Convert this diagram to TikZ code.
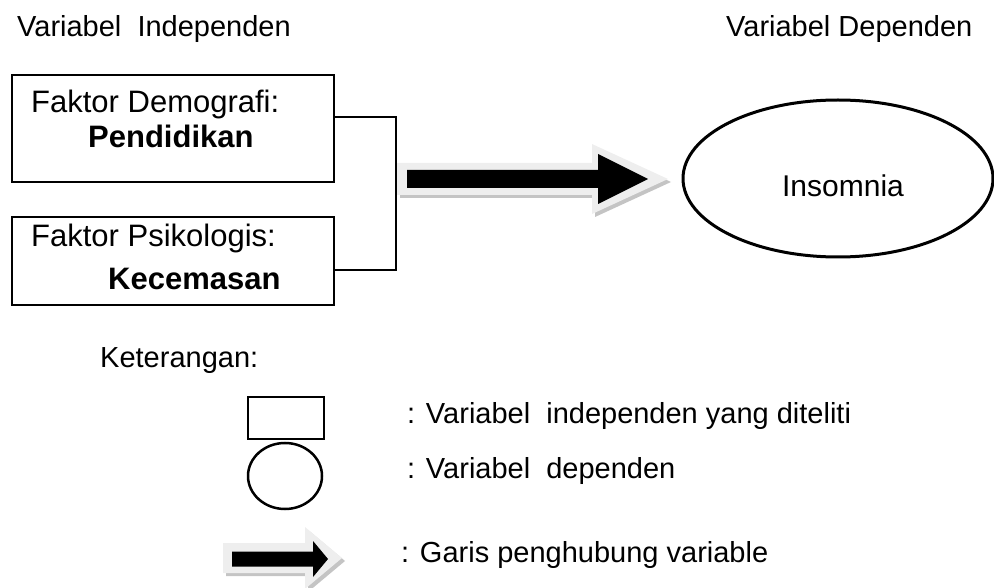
\documentclass[tikz,border=0pt]{standalone}
\usepackage{fontspec}
\setmainfont{Liberation Sans}
\usetikzlibrary{shapes.geometric}
\definecolor{arrowgrey}{HTML}{EEEEEE}
\definecolor{shadegrey}{HTML}{C4C4C4}
\newcommand{\blockarrow}[7][black]{%
    \fill[#1] (#2,{#5-#6}) -- (#3,{#5-#6}) -- (#3,{#5-#7}) -- (#4,#5)
        -- (#3,{#5+#7}) -- (#3,{#5+#6}) -- (#2,{#5+#6}) -- cycle;}

\begin{document}
\begin{tikzpicture}[x=1pt, y=-1pt,
    txt/.style={inner sep=0pt, anchor=base west, font=\fontsize{29}{34}\selectfont},
    boxtxt/.style={txt, font=\fontsize{31}{36}\selectfont},
    varbox/.style={draw, line width=2pt, inner sep=0pt},
    depvar/.style={draw, ellipse, line width=3pt, inner sep=0pt}]
    \useasboundingbox (0,0) rectangle (994,588);
    \node[txt] (hind) at (17,37) {Variabel~ Independen};
    \node[txt] (hdep) at (726,37) {Variabel Dependen};
    \node[varbox, minimum width=322pt, minimum height=107pt] (dem) at (173,128.5) {};
    \node[varbox, minimum width=322pt, minimum height=88pt] (psi) at (173,261) {};
    \node[boxtxt] (demt) at (31,113) {Faktor Demografi:};
    \node[boxtxt] (pend) at (88,148) {\bfseries Pendidikan};
    \node[boxtxt] (psit) at (31,247) {Faktor Psikologis:};
    \node[boxtxt] (kec) at (108,290) {\bfseries Kecemasan};
    \draw[line width=1.5pt] ([yshift=11.5pt]dem.east) -- ++(61,0) |- ([yshift=-9pt]psi.east);
    \blockarrow[shadegrey]{400}{595}{671}{182}{16}{35}
    \blockarrow[arrowgrey]{397}{592}{668}{179}{16}{35}
    \blockarrow{407}{598}{648}{179}{9}{25}
    \node[depvar, minimum width=310pt, minimum height=157pt] (ins) at (838,178.5) {};
    \node[txt, anchor=base, font=\fontsize{30}{35}\selectfont] (inst) at (843,197) {Insomnia};
    \node[txt] (ket) at (100,367) {Keterangan:};
    \node[varbox, minimum width=76pt, minimum height=42pt] (lbox) at (286,418) {};
    \node[depvar, line width=2.5pt, minimum width=74pt, minimum height=66pt] (lell) at (285,476) {};
    \blockarrow[shadegrey]{226}{308}{345}{561}{15}{31}
    \blockarrow[arrowgrey]{223}{305}{342}{558}{15}{31}
    \blockarrow{232}{313}{328}{559}{7.5}{18}
    \node[txt] (lt1) at (407,423) {: Variabel~ independen yang diteliti};
    \node[txt] (lt2) at (407,478) {: Variabel~ dependen};
    \node[txt] (lt3) at (401,562) {: Garis penghubung variable};
\end{tikzpicture}
\end{document}
